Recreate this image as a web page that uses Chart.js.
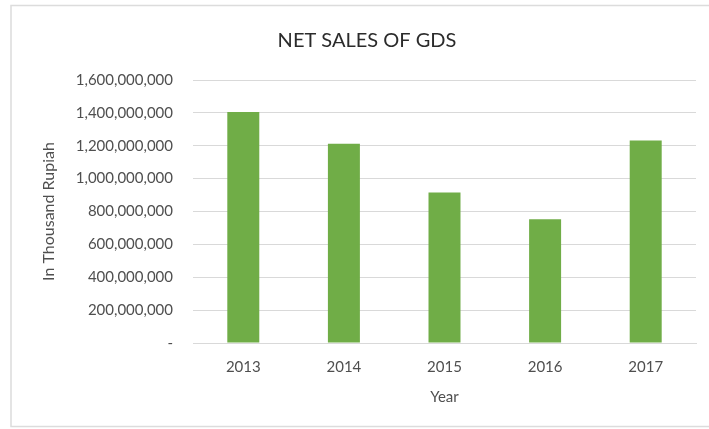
<!DOCTYPE html>
<html lang="en">
<head>
<meta charset="UTF-8">
<title>Net Sales of GDS</title>
<script src="https://cdn.jsdelivr.net/npm/chart.js@4.4.1/dist/chart.umd.min.js"></script>
<style>
  html, body { margin: 0; padding: 0; background: #ffffff; }
</style>
</head>
<body>
<canvas id="salesChart" width="709" height="429"></canvas>
<script>
// net sales per year, in thousand rupiah
const years = ['2013', '2014', '2015', '2016', '2017'];
const netSales = [1405000000, 1212000000, 915000000, 753000000, 1232000000];
const yTickLabels = ['-', '200,000,000', '400,000,000', '600,000,000', '800,000,000',
  '1,000,000,000', '1,200,000,000', '1,400,000,000', '1,600,000,000'];

const textColor = '#4f4f4f';
const fontFamily = 'Lato, "Open Sans", sans-serif';

// light grey frame round the chart
const frame = {
  id: 'frame',
  beforeDraw(chart) {
    const c = chart.ctx;
    c.save();
    c.strokeStyle = '#dcdcdc';
    c.lineWidth = 1.5;
    c.strokeRect(11, 5.5, 720, 421);
    c.restore();
  }
};

new Chart(document.getElementById('salesChart'), {
  type: 'bar',
  data: {
    labels: years,
    datasets: [{
      label: 'Net sales',
      data: netSales,
      backgroundColor: '#70ad47',
      categoryPercentage: 1,
      barPercentage: 0.318
    }]
  },
  options: {
    responsive: false,
    animation: false,
    layout: { padding: { left: 38, right: 13, top: 5, bottom: 0 } },
    plugins: {
      legend: { display: false },
      tooltip: { enabled: false },
      title: {
        display: true,
        text: 'NET SALES OF GDS',
        color: '#2b2b2b',
        font: { family: fontFamily, size: 20, weight: 'normal' },
        padding: { top: 24, bottom: 27 }
      }
    },
    scales: {
      x: {
        grid: { display: false },
        border: { color: '#d9d9d9' },
        ticks: { color: textColor, font: { family: fontFamily, size: 15 }, padding: 7 },
        title: {
          display: true,
          text: 'Year',
          color: textColor,
          font: { family: fontFamily, size: 15 },
          padding: { top: 0, bottom: 23 }
        },
        afterFit(scale) { scale.height = 86; }
      },
      y: {
        min: 0,
        max: 1600000000,
        grid: { color: '#d9d9d9', drawTicks: false },
        border: { display: false },
        ticks: {
          stepSize: 200000000,
          color: textColor,
          font: { family: fontFamily, size: 15 },
          padding: 20,
          callback: (value, index) => yTickLabels[index]
        },
        title: {
          display: true,
          text: 'In Thousand Rupiah',
          color: textColor,
          font: { family: fontFamily, size: 16 },
          padding: { top: 1, bottom: 0 }
        },
        afterFit(scale) { scale.width = 155; }
      }
    }
  },
  plugins: [frame]
});
</script>
</body>
</html>
